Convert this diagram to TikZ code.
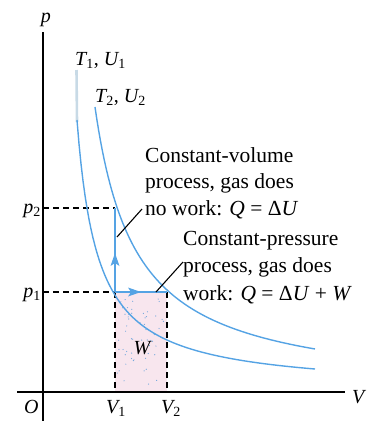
\documentclass[tikz,border=0pt]{standalone}
\usepackage{fontspec}
\setmainfont{Liberation Serif}
\usetikzlibrary{arrows.meta}
\definecolor{curveblue}{RGB}{85,163,228}
\definecolor{paleblue}{RGB}{200,218,230}
\definecolor{workpink}{RGB}{248,230,238}
\definecolor{speck}{RGB}{110,165,220}
\newcommand{\sbs}[1]{\textsubscript{\upshape #1}}
\begin{document}
\begin{tikzpicture}[x=1pt,y=-1pt,
  axisline/.style={line width=1.3pt,black},
  guide/.style={line width=1.2pt,black,dash pattern=on 6pt off 4pt},
  isotherm/.style={line width=1.4pt,curveblue},
  process/.style={line width=2.4pt,curveblue},
  headtip/.style={fill=curveblue,draw=none},
  leader/.style={line width=1.1pt,black},
  lbl/.style={inner sep=0pt,font=\fontsize{20}{24}\selectfont\itshape},
  txt/.style={inner sep=0pt,anchor=base west,font=\fontsize{21.5}{26}\selectfont}]
\useasboundingbox (0,0) rectangle (373,421);

% work area
\fill[workpink] (115,292) rectangle (167,391);
\pgfmathsetseed{11}
\foreach \i in {1,...,55}{
  \pgfmathsetmacro{\rx}{117+48*rnd}
  \pgfmathsetmacro{\ry}{295+94*rnd}
  \fill[speck] (\rx,\ry) circle (0.6pt);
}

% axes
\coordinate (Otop) at (43,32);
\coordinate (Obot) at (43,421);
\coordinate (Xl) at (17,392);
\coordinate (Xr) at (345,392);
\draw[axisline] (Obot) -- (Otop);
\draw[axisline] (Xl) -- (Xr);

% states
\coordinate (A) at (115,292);
\coordinate (B) at (115,208);
\coordinate (C) at (167,292);
\coordinate (P2ax) at (43,208);
\coordinate (P1ax) at (43,292);
\coordinate (V1ax) at (115,392);
\coordinate (V2ax) at (167,392);

% dashed guides
\draw[guide] (P2ax) -- (B);
\draw[guide] (P1ax) -- (A);
\draw[guide] (A) -- (V1ax);
\draw[guide] (C) -- (V2ax);

% isotherms
\draw[line width=2.6pt,paleblue] (76.5,70) -- (77,122);
\draw[isotherm] plot[domain=77:315,samples=120] (\x,{390.7-5614/(\x-56.26)});
\draw[isotherm] plot[domain=95:315,samples=120] (\x,{394-11748/(\x-54.07)});

% processes
\draw[process] (A) -- (B);
\draw[process] (A) -- (C);
\fill[headtip] (115,253) -- (119.5,266) -- (115,263) -- (110.5,266) -- cycle;
\fill[headtip] (141,292) -- (128,296.5) -- (131,292) -- (128,287.5) -- cycle;

% labels
\node[lbl,anchor=base] (plab) at (46,22) {p};
\node[lbl,anchor=base west] (Vlab) at (352,403) {V};
\node[lbl,anchor=base west] (Olab) at (24,413) {O};
\node[lbl,anchor=base east] (p2lab) at (41,213) {p\sbs{2}};
\node[lbl,anchor=base east] (p1lab) at (41,297) {p\sbs{1}};
\node[lbl,anchor=base] (V1lab) at (116,413) {V\sbs{1}};
\node[lbl,anchor=base] (V2lab) at (171,413) {V\sbs{2}};
\node[lbl,anchor=base] (Wlab) at (142,354) {W};
\node[lbl,anchor=base west] (T1lab) at (75,65) {T\sbs{1}\upshape, \itshape U\sbs{1}};
\node[lbl,anchor=base west] (T2lab) at (95,102) {T\sbs{2}\upshape, \itshape U\sbs{2}};

% annotation texts
\node[txt] (cv1) at (145,162) {Constant-volume};
\node[txt] (cv2) at (145,188) {process, gas does};
\node[txt] (cv3) at (145,215) {no work: \textit{Q} = Δ\textit{U}};
\node[txt] (cp1) at (183,245) {Constant-pressure};
\node[txt] (cp2) at (183,272) {process, gas does};
\node[txt] (cp3) at (183,300) {work: \textit{Q} = Δ\textit{U} + \textit{W}};

% leaders
\coordinate (L1a) at (142,209);
\coordinate (L1b) at (117,237);
\coordinate (L2a) at (183,262);
\coordinate (L2b) at (156,292);
\draw[leader] (L1a) -- (L1b);
\draw[leader] (L2a) -- (L2b);
\end{tikzpicture}
\end{document}
